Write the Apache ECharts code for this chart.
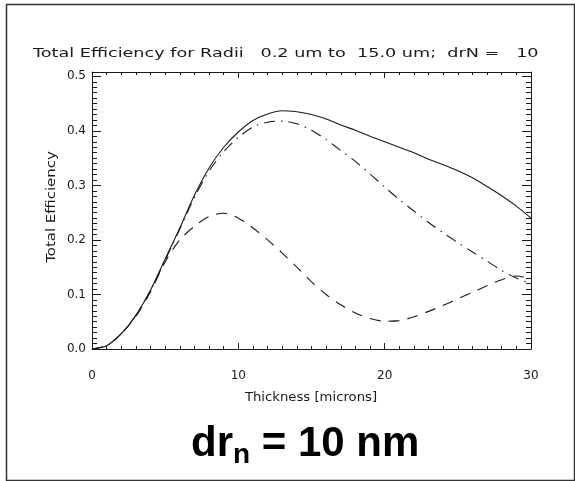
<!DOCTYPE html>
<html>
<head>
<meta charset="utf-8">
<script src="https://cdn.jsdelivr.net/npm/echarts@6/dist/echarts.min.js"></script>
<style>
  html, body { margin: 0; padding: 0; background: #fff; }
  #chart { width: 575px; height: 481px; }
</style>
</head>
<body>
<div id="chart"></div>
<script>
// Thickness in microns (sample positions)
const thickness = [0, 1, 2, 3, 4, 5, 6, 7, 8, 9, 10, 11, 12, 13, 14, 15,
  16, 17, 18, 19, 20, 21, 22, 23, 24, 25, 26, 27, 28, 29, 30];

// Total efficiency, all radii (solid)
const effTotal = [0.000, 0.006, 0.028, 0.062, 0.108, 0.165, 0.222, 0.282, 0.332, 0.370,
  0.398, 0.419, 0.431, 0.437, 0.435, 0.430, 0.422, 0.411, 0.401, 0.390,
  0.380, 0.370, 0.360, 0.348, 0.338, 0.327, 0.314, 0.298, 0.281, 0.262, 0.240];

// Dash-dot curve
const effDashDot = [0.000, 0.006, 0.028, 0.062, 0.107, 0.163, 0.220, 0.278, 0.326, 0.362,
  0.388, 0.407, 0.416, 0.418, 0.413, 0.401, 0.384, 0.364, 0.344, 0.321,
  0.297, 0.274, 0.253, 0.232, 0.213, 0.195, 0.178, 0.161, 0.144, 0.130, 0.120];

// Dashed curve
const effDashed = [0.000, 0.006, 0.028, 0.060, 0.105, 0.160, 0.200, 0.225, 0.243, 0.249,
  0.240, 0.222, 0.200, 0.176, 0.150, 0.123, 0.100, 0.081, 0.066, 0.056,
  0.051, 0.052, 0.059, 0.069, 0.080, 0.092, 0.104, 0.116, 0.127, 0.134, 0.128];

const xTicks = [0, 10, 20, 30];
const yTicks = [0.0, 0.1, 0.2, 0.3, 0.4, 0.5];

const titleText = 'Total Efficiency for Radii   0.2 um to  15.0 um;  drN =   10 nm';
const xName = 'Thickness [microns]';
const yName = 'Total Efficiency';

const FONT = 'DejaVu Sans';
const INK = '#1a1a1a';
const TITLE_WIDE = 1.41;  // horizontal stretch for the title lettering
const NAME_WIDE_X = 1.15;
const NAME_WIDE_Y = 1.3;

const pairs = (ys) => thickness.map((x, i) => [x, ys[i]]);

const chart = echarts.init(document.getElementById('chart'), null, { renderer: 'canvas' });

const tickCommon = {
  axisLine: { show: true, onZero: false, lineStyle: { color: INK, width: 1 } },
  splitLine: { show: false }
};

chart.setOption({
  animation: false,
  backgroundColor: '#ffffff',
  grid: { left: 92, top: 72, right: 44, bottom: 132 },
  xAxis: [
    Object.assign({
      type: 'value', min: 0, max: 30, interval: 10, position: 'bottom',
      axisTick: { show: true, inside: true, length: 6, lineStyle: { color: INK } },
      minorTick: { show: true, splitNumber: 10, length: 3, lineStyle: { color: INK } },
      axisLabel: { fontFamily: FONT, fontSize: 12, color: INK, margin: 21,
        formatter: (v) => xTicks.includes(v) ? String(v) : '' }
    }, tickCommon),
    Object.assign({
      type: 'value', min: 0, max: 30, interval: 10, position: 'top',
      axisTick: { show: true, inside: true, length: 6, lineStyle: { color: INK } },
      minorTick: { show: true, splitNumber: 10, length: 3, lineStyle: { color: INK } },
      axisLabel: { show: false }
    }, tickCommon)
  ],
  yAxis: [
    Object.assign({
      type: 'value', min: 0, max: 0.508, interval: 0.1, position: 'left',
      axisTick: { show: true, inside: true, length: 9, lineStyle: { color: INK } },
      minorTick: { show: true, splitNumber: 10, length: 5, lineStyle: { color: INK } },
      axisLabel: { fontFamily: FONT, fontSize: 12, color: INK, margin: 6,
        showMaxLabel: false,
        formatter: (v) => yTicks.some(t => Math.abs(t - v) < 1e-9) ? v.toFixed(1) : '' }
    }, tickCommon),
    Object.assign({
      type: 'value', min: 0, max: 0.508, interval: 0.1, position: 'right',
      axisTick: { show: true, inside: true, length: 9, lineStyle: { color: INK } },
      minorTick: { show: true, splitNumber: 10, length: 5, lineStyle: { color: INK } },
      axisLabel: { show: false }
    }, tickCommon)
  ],
  series: [
    {
      name: 'total', type: 'line', data: pairs(effTotal), smooth: 0.3,
      symbol: 'none', lineStyle: { color: INK, width: 1.1, type: 'solid' }
    },
    {
      name: 'dash-dot', type: 'line', data: pairs(effDashDot), smooth: 0.3,
      symbol: 'none', lineStyle: { color: INK, width: 1.1, type: [11, 6, 1.5, 6] }
    },
    {
      name: 'dashed', type: 'line', data: pairs(effDashed), smooth: 0.3,
      symbol: 'none', lineStyle: { color: INK, width: 1.1, type: [11, 8] }
    }
  ],
  graphic: [
    {
      type: 'rect', left: 4, top: 2, z: 0, silent: true,
      shape: { width: 568, height: 476 },
      style: { fill: 'none', stroke: '#333', lineWidth: 1.5 }
    },
    {
      // plot title, running off the right edge of the plot window
      type: 'text', x: 33, y: 54, scaleX: TITLE_WIDE, silent: true,
      style: {
        text: titleText, fontFamily: FONT, fontSize: 12.5, fill: INK,
        verticalAlign: 'middle', align: 'left',
        width: 532 / TITLE_WIDE, overflow: 'truncate', ellipsis: ''
      }
    },
    {
      type: 'text', x: 311, y: 398, scaleX: NAME_WIDE_X, silent: true,
      style: {
        text: xName, fontFamily: FONT, fontSize: 11.5, fill: INK,
        align: 'center', verticalAlign: 'middle'
      }
    },
    {
      type: 'text', x: 52, y: 207, scaleX: NAME_WIDE_Y, rotation: Math.PI / 2, silent: true,
      style: {
        text: yName, fontFamily: FONT, fontSize: 11.5, fill: INK,
        align: 'center', verticalAlign: 'middle'
      }
    },
    {
      type: 'text', left: 191, top: 419, silent: true,
      style: {
        text: '{a|dr}{s|n}{a| = 10 nm}',
        rich: {
          a: { fontFamily: 'Liberation Sans', fontWeight: 'bold', fontSize: 42, color: '#000', lineHeight: 50 },
          s: { fontFamily: 'Liberation Sans', fontWeight: 'bold', fontSize: 28, color: '#000', lineHeight: 50, padding: [22, 0, 0, 0] }
        }
      }
    }
  ]
});
</script>
</body>
</html>
